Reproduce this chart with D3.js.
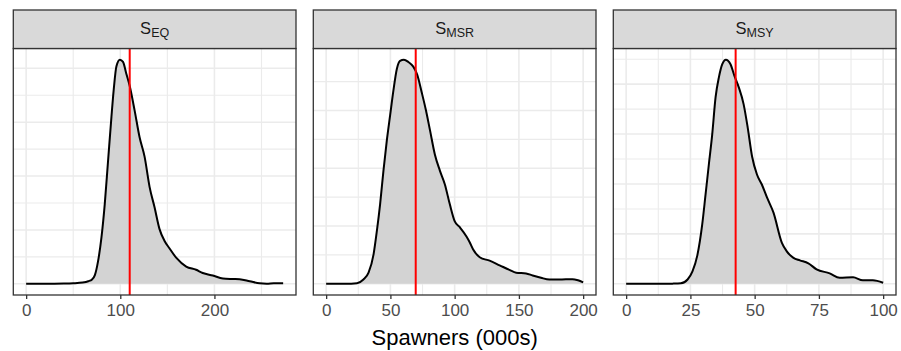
<!DOCTYPE html>
<html>
<head>
<meta charset="utf-8">
<script src="https://cdn.jsdelivr.net/npm/d3@7"></script>
<style>
  body { margin: 0; background: #fff; }
  svg { display: block; font-family: "Liberation Sans", Arial, sans-serif; }
</style>
</head>
<body>
<svg id="chart" width="901" height="351"></svg>
<script>
// Facet labels (S with subscript)
const facetMain = ["S", "S", "S"];
const facetSub = ["EQ", "MSR", "MSY"];

// Posterior density of S_EQ (spawners, 000s)
const eqX = [0, 20, 40, 50, 60, 66, 70, 73, 76.4, 80, 83.5, 87, 90.6, 93, 95.9, 99.6, 102.9, 106.4, 109.9, 115.2, 120.5, 125.8, 131.1, 136.4, 141.6, 146.9, 152.2, 159.6, 170, 180.5, 187.6, 198.3, 209, 218.5, 226.8, 237.5, 248, 255.5, 263, 273];
const eqDensity = [0, 0, 0.00002, 0.00005, 0.00012, 0.00024, 0.0004, 0.0008, 0.0021, 0.0043, 0.0074, 0.0114, 0.0155, 0.0180, 0.0202, 0.0208, 0.0206, 0.0195, 0.0184, 0.0161, 0.0136, 0.0118, 0.0090, 0.0071, 0.0051, 0.0040, 0.0033, 0.0024, 0.0016, 0.0013, 0.0010, 0.00077, 0.0005, 0.00045, 0.00043, 0.00024, 0.00004, 0.0, 0.00005, 0.00006];

// Posterior density of S_MSR
const msrX = [0, 15, 24, 29, 33, 36.9, 39.5, 42, 44.6, 47.2, 49.8, 52.3, 55, 57.5, 60.5, 64, 67.8, 70.9, 74.3, 77.7, 80.8, 84.6, 88.5, 92.4, 96.2, 100.1, 104, 109.2, 111.7, 114.3, 119.5, 127.2, 135, 142.7, 147.9, 155.6, 160.7, 167.2, 173.7, 181.4, 191.7, 196, 200];
const msrDensity = [0, 0, 0.00005, 0.00037, 0.00096, 0.00255, 0.0046, 0.0069, 0.0098, 0.0124, 0.0146, 0.0167, 0.0186, 0.0193, 0.0194, 0.0192, 0.0188, 0.0181, 0.0166, 0.0150, 0.0133, 0.0112, 0.0098, 0.0086, 0.0069, 0.0054, 0.0049, 0.0041, 0.0036, 0.0030, 0.0023, 0.0020, 0.0016, 0.0012, 0.00096, 0.0009, 0.00072, 0.00052, 0.00037, 0.00037, 0.0004, 0.0003, 0.00012];

// Posterior density of S_MSY
const msyX = [0, 13.5, 18, 21.3, 23.9, 25.8, 27.7, 29.6, 30.9, 32.2, 33.5, 34.8, 36.1, 37.4, 38.8, 40.6, 42.1, 43.8, 45.7, 47.3, 49.0, 50.9, 52.8, 54.8, 57.3, 60.6, 62.5, 65.1, 67.6, 70.9, 74.1, 79.2, 83.1, 88.3, 92.1, 96.0, 100];
const msyDensity = [0, 0, 0.00003, 0.0001, 0.00086, 0.0025, 0.0057, 0.0119, 0.0179, 0.0240, 0.0300, 0.0374, 0.0414, 0.0440, 0.0449, 0.0440, 0.0417, 0.0394, 0.0360, 0.0313, 0.0255, 0.0219, 0.0199, 0.0173, 0.0143, 0.0082, 0.0065, 0.0052, 0.0047, 0.0041, 0.0029, 0.0021, 0.0012, 0.0013, 0.0007, 0.0007, 0.0002];

// Reference values (red vertical lines)
const refValues = [110, 69.7, 42.6];

// Axis breaks per panel
const eqXBreaks = [0, 100, 200];
const msrXBreaks = [0, 50, 100, 150, 200];
const msyXBreaks = [0, 25, 50, 75, 100];
const eqYBreaks = [0, 0.005, 0.01, 0.015, 0.02];
const msrYBreaks = [0, 0.005, 0.01, 0.015];
const msyYBreaks = [0, 0.01, 0.02, 0.03, 0.04];

const xTitle = "Spawners (000s)";

const panels = [
  { x: eqX, y: eqDensity, xb: eqXBreaks, yb: eqYBreaks },
  { x: msrX, y: msrDensity, xb: msrXBreaks, yb: msrYBreaks },
  { x: msyX, y: msyDensity, xb: msyXBreaks, yb: msyYBreaks }
];

const svg = d3.select("#chart");

const panelLeft = [13.3, 313.3, 613.3];
const panelW = 282.7;
const stripTop = 10, stripH = 38.5;
const panelTop = stripTop + stripH, panelBottom = 295;

function minorBreaks(major, lo, hi) {
  const step = major[1] - major[0];
  const out = [];
  for (let v = major[0] - step / 2; v <= hi; v += step) {
    if (v >= lo && v <= hi) out.push(v);
  }
  return out;
}

panels.forEach((p, i) => {
  const x0 = panelLeft[i];
  const xMin = 0, xMax = d3.max(p.x);
  const xPad = (xMax - xMin) * 0.05;
  const yMax = d3.max(p.y);
  const yPad = yMax * 0.05;

  const x = d3.scaleLinear().domain([xMin - xPad, xMax + xPad]).range([x0, x0 + panelW]);
  const y = d3.scaleLinear().domain([-yPad, yMax + yPad]).range([panelBottom, panelTop]);

  const g = svg.append("g");

  // panel background
  g.append("rect").attr("x", x0).attr("y", panelTop).attr("width", panelW)
    .attr("height", panelBottom - panelTop).attr("fill", "#fff");

  // minor grid
  const xd = x.domain(), yd = y.domain();
  g.selectAll(".gxm").data(minorBreaks(p.xb, xd[0], xd[1])).join("line")
    .attr("x1", d => x(d)).attr("x2", d => x(d)).attr("y1", panelTop).attr("y2", panelBottom)
    .attr("stroke", "#ebebeb").attr("stroke-width", 1.1);
  g.selectAll(".gym").data(minorBreaks(p.yb, yd[0], yd[1])).join("line")
    .attr("y1", d => y(d)).attr("y2", d => y(d)).attr("x1", x0).attr("x2", x0 + panelW)
    .attr("stroke", "#ebebeb").attr("stroke-width", 1.1);
  // major grid
  g.selectAll(".gx").data(p.xb).join("line")
    .attr("x1", d => x(d)).attr("x2", d => x(d)).attr("y1", panelTop).attr("y2", panelBottom)
    .attr("stroke", "#ebebeb").attr("stroke-width", 1.6);
  g.selectAll(".gy").data(p.yb).join("line")
    .attr("y1", d => y(d)).attr("y2", d => y(d)).attr("x1", x0).attr("x2", x0 + panelW)
    .attr("stroke", "#ebebeb").attr("stroke-width", 1.6);

  const pts = p.x.map((v, k) => [v, p.y[k]]);

  // density fill
  g.append("path").datum(pts)
    .attr("d", d3.area().x(d => x(d[0])).y0(y(0)).y1(d => y(d[1])).curve(d3.curveMonotoneX))
    .attr("fill", "#d3d3d3");
  // density outline
  g.append("path").datum(pts)
    .attr("d", d3.line().x(d => x(d[0])).y(d => y(d[1])).curve(d3.curveMonotoneX))
    .attr("fill", "none").attr("stroke", "#000").attr("stroke-width", 2)
    .attr("stroke-linejoin", "round");

  // reference line
  g.append("line")
    .attr("x1", x(refValues[i])).attr("x2", x(refValues[i]))
    .attr("y1", panelTop).attr("y2", panelBottom)
    .attr("stroke", "#ff0000").attr("stroke-width", 2);

  // panel border
  g.append("rect").attr("x", x0).attr("y", panelTop).attr("width", panelW)
    .attr("height", panelBottom - panelTop).attr("fill", "none")
    .attr("stroke", "#333333").attr("stroke-width", 1.3);

  // strip
  g.append("rect").attr("x", x0).attr("y", stripTop).attr("width", panelW).attr("height", stripH)
    .attr("fill", "#d9d9d9").attr("stroke", "#333333").attr("stroke-width", 1.3);
  const st = g.append("text").attr("x", x0 + panelW / 2).attr("y", 34)
    .attr("text-anchor", "middle").attr("fill", "#1a1a1a").attr("font-size", 16.5);
  st.append("tspan").text(facetMain[i]);
  st.append("tspan").attr("font-size", 12.5).attr("dy", 2.5).text(facetSub[i]);

  // x axis
  const ax = g.append("g").attr("transform", `translate(0,${panelBottom})`)
    .call(d3.axisBottom(x).tickValues(p.xb).tickFormat(d3.format("d")).tickSize(4).tickPadding(5));
  ax.select(".domain").remove();
  ax.selectAll(".tick line").attr("stroke", "#333333").attr("stroke-width", 1.3);
  ax.selectAll(".tick text").attr("fill", "#4d4d4d").attr("font-size", 17)
    .attr("font-family", "Liberation Sans, Arial, sans-serif");
});

svg.append("text")
  .attr("x", (panelLeft[0] + panelLeft[2] + panelW) / 2)
  .attr("y", 345)
  .attr("text-anchor", "middle")
  .attr("font-size", 22)
  .attr("fill", "#000")
  .text(xTitle);
</script>
</body>
</html>
